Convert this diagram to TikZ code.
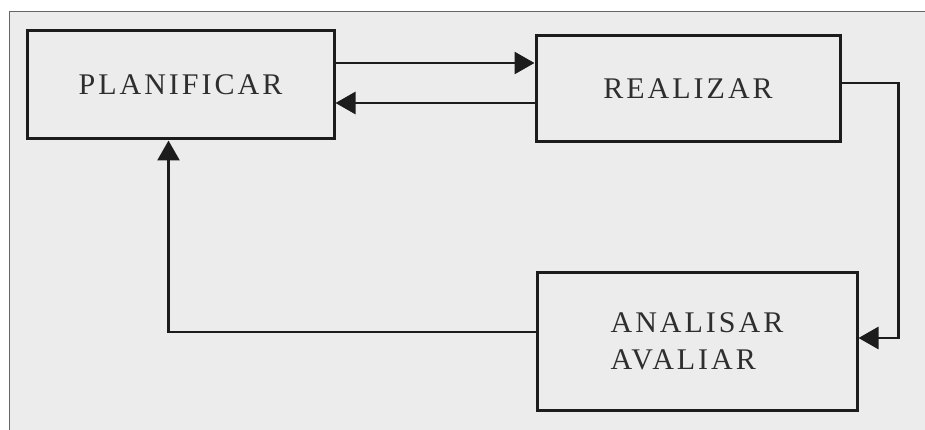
\documentclass[tikz,border=0pt]{standalone}
\usepackage{fontspec}
\setmainfont{Liberation Serif}[LetterSpace=10]
\usetikzlibrary{arrows.meta}
\definecolor{paper}{HTML}{ECECEC}
\definecolor{ink}{HTML}{1C1C1C}
\definecolor{textink}{HTML}{2E2E2E}
\definecolor{framecol}{HTML}{666666}
\tikzset{
  box/.style={draw=ink, line width=3pt, inner sep=0pt,
    font=\fontsize{30}{37}\selectfont, text=textink},
  flow/.style={draw=ink, line width=2.8pt,
    -{Triangle[length=20pt,width=22pt]}}
}
\begin{document}
\begin{tikzpicture}[x=1pt,y=-1pt]
  \useasboundingbox (0,0) rectangle (925,430);
  % paper and the edge of the page
  \fill[white] (0,0) rectangle (925,430);
  \fill[paper] (9,12) rectangle (925,430);
  \draw[framecol, line width=1pt] (9,430) -- (9,12) -- (925,12);

  % the three stages
  \node[box, minimum width=307pt, minimum height=108pt] (P) at (180.5,85) {PLANIFICAR};
  \node[box, minimum width=304pt, minimum height=106pt] (R) at (688,89) {REALIZAR};
  \node[box, minimum width=320pt, minimum height=138pt, align=left] (A) at (697,341)
    {ANALISAR\\AVALIAR};

  % connectors (yshift is measured upwards on the page)
  \draw[flow] ([yshift=22pt]P.east) -- ([yshift=22pt]P.east -| R.west);
  \draw[flow] ([yshift=-14pt]R.west) -- ([yshift=-14pt]R.west -| P.east);
  \draw[flow] ([yshift=6pt]R.east) -- ++(57pt,0) |- ([yshift=3pt]A.east);
  \draw[flow] ([yshift=9pt]A.west) -| ([xshift=-12pt]P.south);
\end{tikzpicture}
\end{document}
